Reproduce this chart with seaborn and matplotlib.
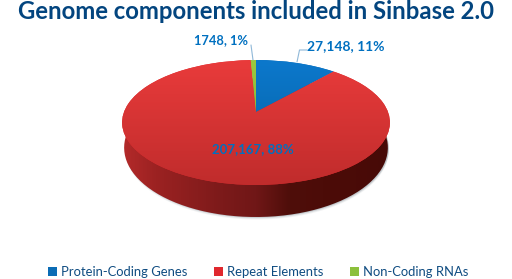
import numpy as np
import seaborn as sns
import matplotlib.pyplot as plt
from matplotlib.patches import PathPatch
from matplotlib.path import Path
from matplotlib.transforms import Transform

categories = ['Protein-Coding Genes', 'Repeat Elements', 'Non-Coding RNAs']
values = [27148, 207167, 1748]
slice_labels = ['27,148, 11%', '207,167, 88%', '1748, 1%']
top_colors = [('#0c78cc', '#05609f'), ('#e93b3b', '#c02c2c'), ('#9ac93f', '#7fa832')]
legend_colors = ['#0b6cb5', '#e0282e', '#8cc03c']
side_colors = ['#b42a2a', '#9c2222', '#8c1e1e', '#7c1a1a', '#701717', '#4f0e0a', '#4c0c08', '#4a0b07', '#470a07']

sns.set_theme(style='white')
plt.rcParams['font.family'] = ['Lato', 'DejaVu Sans']


# tilted disc: unit circle -> pixels, with the apex above the ellipse middle
class Tilt(Transform):
    input_dims = 2
    output_dims = 2

    def __init__(self, cx, cy, sx, sy, k):
        super().__init__()
        self.p = (cx, cy, sx, sy, k)

    def transform_non_affine(self, xy):
        cx, cy, sx, sy, k = self.p
        xy = np.asarray(xy)
        d = 1 + k * xy[:, 1]
        return np.column_stack([cx + sx * xy[:, 0] / d, cy - sy * xy[:, 1] / d])


k = 0.168
top = Tilt(256, 112, 132, 60.7, k)
bottom = Tilt(256, 136, 130, 67.4, k)

fig = plt.figure(figsize=(5.12, 2.79), dpi=100)
ax = fig.add_axes([0, 0, 1, 1])

wedges, _ = ax.pie(values, startangle=90, counterclock=False, radius=1, colors=legend_colors)
ax.set_aspect('auto')
ax.axis('off')

# drop shadow and side wall
t = np.linspace(0, 2 * np.pi, 240)
low = bottom.transform(np.column_stack([np.cos(t), np.sin(t)]))
for grow, a in [(2.5, 0.08), (1.5, 0.12), (0.6, 0.2)]:
    ax.fill(low[:, 0] + 1, low[:, 1] + grow, color='#50606a', alpha=a, lw=0, zorder=1)

side_cmap = sns.blend_palette(side_colors, as_cmap=True)
im = ax.imshow(np.linspace(0, 1, 256)[None, :], cmap=side_cmap, extent=[122, 390, 279, 0],
               aspect='auto', zorder=2)
wall = PathPatch(Path(low), transform=ax.transData, fc='none', lw=0)
ax.add_patch(wall)
im.set_clip_path(wall)

# top face, gradient clipped to each wedge
for w, cols in zip(wedges, top_colors):
    w.set_transform(top + ax.transData)
    w.set_zorder(3)
    w.set_linewidth(0)
    cmap = sns.blend_palette(cols, as_cmap=True)
    face = ax.imshow(np.linspace(0, 1, 128)[:, None], cmap=cmap, extent=[100, 412, 185, 60],
                     origin='upper', aspect='auto', zorder=4)
    face.set_clip_path(w)
ax.set_xlim(0, 512)
ax.set_ylim(279, 0)

label_color = '#0070c0'
ax.text(345.5, 46, slice_labels[0], color=label_color, fontsize=10, fontweight='bold', ha='center', va='center', zorder=6)
ax.text(253, 149, slice_labels[1], color=label_color, fontsize=9.5, fontweight='bold', ha='center', va='center', zorder=6)
ax.text(221.5, 40, slice_labels[2], color=label_color, fontsize=9.3, fontweight='bold', ha='center', va='center', zorder=6)
ax.plot([297, 299.5, 307], [62, 50, 50], color='#8fb8d8', lw=0.8, zorder=5)
ax.plot([253, 251], [60, 45], color='#8fb8d8', lw=0.8, zorder=5)

ax.text(256, 19, 'Genome components included in Sinbase 2.0', color='#03457f', fontsize=17.2,
        fontweight='bold', ha='center', va='baseline')

leg = ax.legend(wedges, categories, ncol=3, loc='center', bbox_to_anchor=(258 / 512, 1 - 272 / 279), frameon=False,
                fontsize=9.4, handlelength=0.7, handleheight=0.7, handletextpad=0.3,
                columnspacing=2.05, labelcolor='#0f4c81', borderpad=0)

fig.savefig('out.png', dpi=100)
